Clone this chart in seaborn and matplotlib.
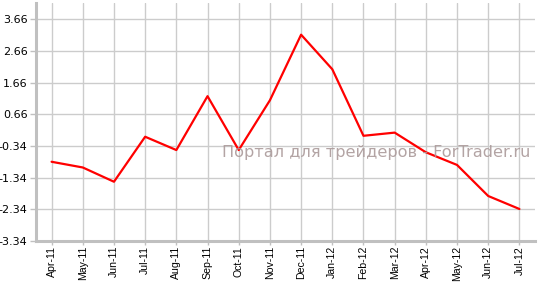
import matplotlib
matplotlib.use("Agg")
import matplotlib.pyplot as plt
import seaborn as sns
import pandas as pd

months = ["Apr-11", "May-11", "Jun-11", "Jul-11", "Aug-11", "Sep-11", "Oct-11", "Nov-11",
          "Dec-11", "Jan-12", "Feb-12", "Mar-12", "Apr-12", "May-12", "Jun-12", "Jul-12"]
values = [-0.84, -1.02, -1.47, -0.05, -0.47, 1.23, -0.47, 1.10,
          3.17, 2.08, -0.02, 0.08, -0.54, -0.94, -1.92, -2.33]
yticks = [-3.34, -2.34, -1.34, -0.34, 0.66, 1.66, 2.66, 3.66]
watermark = "Портал для трейдеров - ForTrader.ru"

df = pd.DataFrame({"month": months, "value": values, "pos": range(len(months))})

sns.set_theme(style="white")
W, H = 538, 282
fig = plt.figure(figsize=(W / 100, H / 100), dpi=100)
ax = fig.add_axes([36 / W, 1 - 241 / H, (535 - 36) / W, (241 - 3) / H])

sns.lineplot(data=df, x="pos", y="value", color="#ff0000", linewidth=1.6, ax=ax)

ax.set_xlim(-0.5, len(months) - 0.5)
ax.set_ylim(-3.34, 4.17)
ax.set_xticks(range(len(months)))
ax.set_xticklabels(months, rotation=90, fontsize=7.6, family="Liberation Sans")
ax.set_yticks(yticks)
ax.set_yticklabels([f"{v:.2f}" for v in yticks], fontsize=8, family="DejaVu Sans")
ax.set_xlabel("")
ax.set_ylabel("")

ax.grid(True, color="#cccccc", linewidth=1)
ax.set_axisbelow(True)
for s in ["top", "right"]:
    ax.spines[s].set_visible(False)
ax.spines["left"].set_color("#c0c0c0")
ax.spines["left"].set_linewidth(2.2)
ax.spines["bottom"].set_color("#c0c0c0")
ax.spines["bottom"].set_linewidth(2.2)
ax.tick_params(axis="y", which="both", length=4, width=1, color="#c0c0c0",
               direction="out", pad=2, labelcolor="black", left=True)
ax.tick_params(axis="x", which="both", length=3, width=1, color="#c0c0c0",
               direction="out", pad=0.5, labelcolor="black", bottom=True)

ax.text(0.681, 0.37, watermark, transform=ax.transAxes, ha="center", va="center",
        fontsize=11.6, color="#ab9a9a", family="DejaVu Sans", alpha=0.9)

fig.savefig("out.png", dpi=100)
